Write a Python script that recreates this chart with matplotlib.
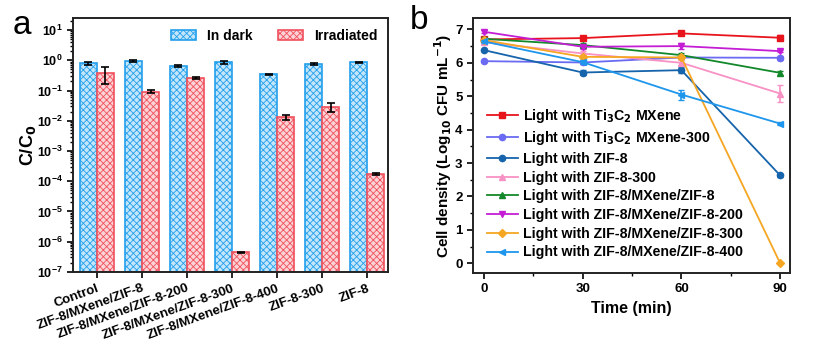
import numpy as np
import matplotlib
matplotlib.use("Agg")
import matplotlib.pyplot as plt
from matplotlib.ticker import LogLocator, MultipleLocator, NullFormatter

plt.rcParams['font.family'] = ['Liberation Sans', 'DejaVu Sans']
plt.rcParams['font.weight'] = 'bold'
plt.rcParams['hatch.linewidth'] = 0.6

# panel a data
samples = ['Control', 'ZIF-8/MXene/ZIF-8', 'ZIF-8/MXene/ZIF-8-200', 'ZIF-8/MXene/ZIF-8-300',
           'ZIF-8/MXene/ZIF-8-400', 'ZIF-8-300', 'ZIF-8']
dark = [0.80, 0.95, 0.67, 0.86, 0.34, 0.76, 0.85]
dark_err = [0.10, 0.10, 0.05, 0.10, 0.02, 0.06, 0.06]
irr = [0.38, 0.092, 0.26, 4.3e-7, 0.013, 0.029, 1.7e-4]
irr_err = [0.22, 0.01, 0.02, 0.2e-7, 0.002, 0.01, 0.1e-4]

# panel b data
time_min = [0, 30, 60, 90]
series = {
    'Light with Ti$_3$C$_2$ MXene': [6.70, 6.74, 6.88, 6.75],
    'Light with Ti$_3$C$_2$ MXene-300': [6.05, 6.01, 6.16, 6.15],
    'Light with ZIF-8': [6.38, 5.71, 5.78, 2.63],
    'Light with ZIF-8-300': [6.62, 6.28, 6.00, 5.08],
    'Light with ZIF-8/MXene/ZIF-8': [6.72, 6.53, 6.23, 5.70],
    'Light with ZIF-8/MXene/ZIF-8-200': [6.93, 6.48, 6.50, 6.35],
    'Light with ZIF-8/MXene/ZIF-8-300': [6.68, 6.18, 6.16, 0.0],
    'Light with ZIF-8/MXene/ZIF-8-400': [6.64, 6.02, 5.05, 4.18],
}
errs = {
    'Light with Ti$_3$C$_2$ MXene': [0.05, 0.05, 0.04, 0.08],
    'Light with Ti$_3$C$_2$ MXene-300': [0.04, 0.05, 0.05, 0.06],
    'Light with ZIF-8': [0.04, 0.06, 0.08, 0.04],
    'Light with ZIF-8-300': [0.05, 0.06, 0.08, 0.25],
    'Light with ZIF-8/MXene/ZIF-8': [0.04, 0.05, 0.06, 0.05],
    'Light with ZIF-8/MXene/ZIF-8-200': [0.04, 0.06, 0.08, 0.04],
    'Light with ZIF-8/MXene/ZIF-8-300': [0.04, 0.05, 0.06, 0.0],
    'Light with ZIF-8/MXene/ZIF-8-400': [0.04, 0.05, 0.15, 0.05],
}
colors = ['#e8141c', '#6a6af2', '#1664ac', '#f891c4', '#12882a', '#c41ed4', '#f5a623', '#1e96ec']
markers = ['s', 'o', 'o', '^', '^', 'v', 'D', '<']

fig = plt.figure(figsize=(8.17, 3.54), dpi=100)
ax1 = fig.add_axes([0.0894, 0.232, 0.386, 0.717])
ax2 = fig.add_axes([0.579, 0.229, 0.388, 0.720])

# ---- panel a
x = np.arange(len(samples))
w = 0.38
ax1.bar(x - w / 2, dark, w, yerr=dark_err, facecolor='#c4e6fa', edgecolor='#22a0ec',
        hatch='xxxxx', linewidth=1.2, capsize=3, error_kw=dict(elinewidth=1.2, capthick=1.2),
        label='In dark', bottom=1e-8)
ax1.bar(x + w / 2, irr, w, yerr=irr_err, facecolor='#fbd3d6', edgecolor='#f0505c',
        hatch='xxxxx', linewidth=1.2, capsize=3, error_kw=dict(elinewidth=1.2, capthick=1.2),
        label='Irradiated', bottom=1e-8)
ax1.set_yscale('log')
ax1.set_ylim(1e-7, 25)
ax1.set_xlim(-0.53, 6.47)
ax1.yaxis.set_major_locator(LogLocator(base=10, numticks=20))
ax1.yaxis.set_minor_locator(LogLocator(base=10, subs=np.arange(2, 10), numticks=20))
ax1.yaxis.set_minor_formatter(NullFormatter())
ax1.set_xticks(x)
ax1.set_xticklabels(samples, rotation=20, ha='right', rotation_mode='anchor', fontsize=9.5)
ax1.tick_params(axis='y', labelsize=9)
ax1.set_ylabel('C/C$_0$', fontsize=13, fontweight='bold', labelpad=-1)
ax1.legend(loc='upper right', ncol=2, frameon=False, fontsize=10, handlelength=1.8,
           columnspacing=1.8, borderaxespad=0.4)
ax1.text(-0.19, 0.97, 'a', transform=ax1.transAxes, fontsize=24, fontweight='normal', va='center')

# ---- panel b
for (name, vals), c, m in zip(series.items(), colors, markers):
    ax2.errorbar(time_min, vals, yerr=errs[name], color=c, fmt='none', elinewidth=1.2,
                 capsize=2.5)
    ax2.plot(time_min, vals, color=c, marker=m, markersize=4.5, linewidth=1.3, label=name)
ax2.set_xlim(-3.3, 93)
ax2.set_ylim(-0.29, 7.34)
ax2.set_xticks(time_min)
ax2.xaxis.set_minor_locator(MultipleLocator(15))
ax2.yaxis.set_minor_locator(MultipleLocator(0.5))
ax2.tick_params(labelsize=9.5)
ax2.set_xlabel('Time (min)', fontsize=11.5, fontweight='bold')
ax2.set_ylabel('Cell density (Log$_{10}$ CFU mL$^{-1}$)', fontsize=11, fontweight='bold',
               labelpad=1)
ax2.legend(loc='lower left', frameon=False, fontsize=10.2, handlelength=2.2,
           labelspacing=0.33, borderaxespad=0.55, handletextpad=0.4)
ax2.text(-0.2, 0.99, 'b', transform=ax2.transAxes, fontsize=24, fontweight='normal', va='center')

for ax in (ax1, ax2):
    for s in ax.spines.values():
        s.set_linewidth(1.4)
        s.set_color('#222222')
    ax.tick_params(which='major', direction='out', length=4, width=1.2)
    ax.tick_params(which='minor', direction='out', length=2.5, width=1)

fig.savefig('out.png', dpi=100)
